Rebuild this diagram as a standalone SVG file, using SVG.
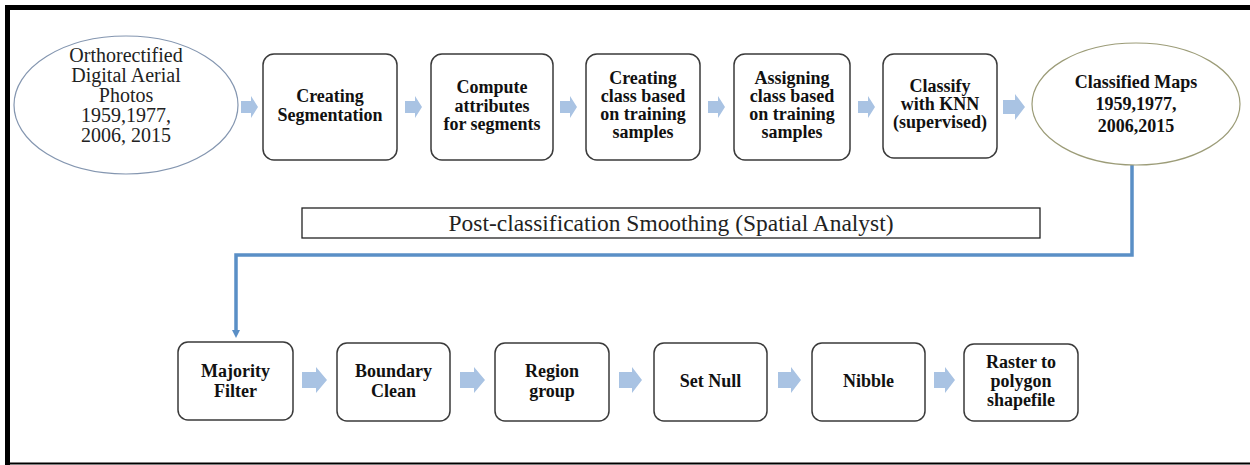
<svg xmlns="http://www.w3.org/2000/svg" width="1250" height="465" viewBox="0 0 1250 465">
<style>
  .box { fill: #fff; stroke: #3a3a3a; stroke-width: 1.5; }
  .bt { font-family: 'Liberation Serif', 'DejaVu Serif', serif; font-weight: bold; font-size: 18px; fill: #111; text-anchor: middle; }
  .rt { font-family: 'Liberation Serif', 'DejaVu Serif', serif; font-size: 20px; fill: #222; text-anchor: middle; }
  .arr { fill: #a9c3e3; }
  .conn { fill: none; stroke: #5a8fc6; stroke-width: 3.5; }
</style>
<defs>
  <marker id="ah" markerWidth="8" markerHeight="8" refX="4" refY="4" orient="auto" markerUnits="userSpaceOnUse">
    <path d="M0,0 L8,4 L0,8 Z" fill="#5a8fc6"/>
  </marker>
</defs>
<rect width="1250" height="465" fill="#fff"/>
<g id="frame">
  <line x1="5" y1="7.5" x2="1250" y2="7.5" stroke="#000" stroke-width="5"/>
  <line x1="7.5" y1="5" x2="7.5" y2="465" stroke="#000" stroke-width="5"/>
  <line x1="5" y1="463.5" x2="1250" y2="463.5" stroke="#000" stroke-width="2"/>
</g>
<g id="connectors">
  <path class="arr" d="M241,101 H251 V96 L258,107 L251,118 V113 H241 Z"/>
  <path class="arr" d="M405,101 H415 V96 L422,107 L415,118 V113 H405 Z"/>
  <path class="arr" d="M560,101 H570 V96 L577,107 L570,118 V113 H560 Z"/>
  <path class="arr" d="M708,101 H718 V96 L725,107 L718,118 V113 H708 Z"/>
  <path class="arr" d="M858,101 H868 V96 L875,107 L868,118 V113 H858 Z"/>
  <path class="arr" d="M1003,100 H1015 V94 L1025,107 L1015,120 V114 H1003 Z"/>
  <path class="arr" d="M302,372 H316 V367 L327,380 L316,393 V388 H302 Z"/>
  <path class="arr" d="M460,372 H474 V367 L485,380 L474,393 V388 H460 Z"/>
  <path class="arr" d="M619,372 H632 V367 L642,380 L632,393 V388 H619 Z"/>
  <path class="arr" d="M778,372 H791 V367 L801,380 L791,393 V388 H778 Z"/>
  <path class="arr" d="M934,372 H945 V367 L955,380 L945,393 V388 H934 Z"/>
  <path class="conn" d="M1132,165 V255 H236 V334" marker-end="url(#ah)"/>
</g>
<g id="n-photos">
  <ellipse cx="126" cy="105" rx="112" ry="69" fill="#fff" stroke="#8496b0" stroke-width="1.2"/>
  <text class="rt" x="126" y="62">Orthorectified</text>
  <text class="rt" x="126" y="82">Digital Aerial</text>
  <text class="rt" x="126" y="102">Photos</text>
  <text class="rt" x="126" y="122">1959,1977,</text>
  <text class="rt" x="126" y="142">2006, 2015</text>
</g>
<g id="n-seg">
  <rect class="box" x="263" y="54" width="134" height="106" rx="11"/>
  <text class="bt" x="330" y="102">Creating</text>
  <text class="bt" x="330" y="121">Segmentation</text>
</g>
<g id="n-attr">
  <rect class="box" x="431" y="54" width="122" height="106" rx="11"/>
  <text class="bt" x="492" y="93">Compute</text>
  <text class="bt" x="492" y="112">attributes</text>
  <text class="bt" x="492" y="130">for segments</text>
</g>
<g id="n-create">
  <rect class="box" x="586" y="54" width="114" height="106" rx="11"/>
  <text class="bt" x="643" y="84">Creating</text>
  <text class="bt" x="643" y="102">class based</text>
  <text class="bt" x="643" y="120">on training</text>
  <text class="bt" x="643" y="138">samples</text>
</g>
<g id="n-assign">
  <rect class="box" x="734" y="54" width="116" height="106" rx="11"/>
  <text class="bt" x="792" y="84">Assigning</text>
  <text class="bt" x="792" y="102">class based</text>
  <text class="bt" x="792" y="120">on training</text>
  <text class="bt" x="792" y="138">samples</text>
</g>
<g id="n-knn">
  <rect class="box" x="883" y="54" width="114" height="104" rx="11"/>
  <text class="bt" x="940" y="92">Classify</text>
  <text class="bt" x="940" y="110">with KNN</text>
  <text class="bt" x="940" y="128">(supervised)</text>
</g>
<g id="n-maps">
  <ellipse cx="1136" cy="104" rx="104" ry="61" fill="#fff" stroke="#9c9c78" stroke-width="1.2"/>
  <text class="bt" x="1136" y="88">Classified Maps</text>
  <text class="bt" x="1136" y="110">1959,1977,</text>
  <text class="bt" x="1136" y="132">2006,2015</text>
</g>
<g id="n-post">
  <rect x="302" y="208" width="738" height="30" fill="#fff" stroke="#222" stroke-width="1.3"/>
  <text class="rt" x="671" y="231" style="font-size:23px" textLength="445" lengthAdjust="spacingAndGlyphs">Post-classification Smoothing (Spatial Analyst)</text>
</g>
<g id="n-majority">
  <rect class="box" x="178" y="342" width="115" height="78" rx="10"/>
  <text class="bt" x="235.5" y="377">Majority</text>
  <text class="bt" x="235.5" y="397">Filter</text>
</g>
<g id="n-boundary">
  <rect class="box" x="337" y="343" width="113" height="78" rx="10"/>
  <text class="bt" x="393.5" y="377">Boundary</text>
  <text class="bt" x="393.5" y="397">Clean</text>
</g>
<g id="n-region">
  <rect class="box" x="495" y="343" width="114" height="78" rx="10"/>
  <text class="bt" x="552" y="377">Region</text>
  <text class="bt" x="552" y="397">group</text>
</g>
<g id="n-setnull">
  <rect class="box" x="654" y="343" width="113" height="78" rx="10"/>
  <text class="bt" x="710.5" y="387">Set Null</text>
</g>
<g id="n-nibble">
  <rect class="box" x="812" y="343" width="113" height="78" rx="10"/>
  <text class="bt" x="868.5" y="387">Nibble</text>
</g>
<g id="n-raster">
  <rect class="box" x="964" y="344" width="114" height="77" rx="10"/>
  <text class="bt" x="1021" y="368">Raster to</text>
  <text class="bt" x="1021" y="387">polygon</text>
  <text class="bt" x="1021" y="406">shapefile</text>
</g>
</svg>
